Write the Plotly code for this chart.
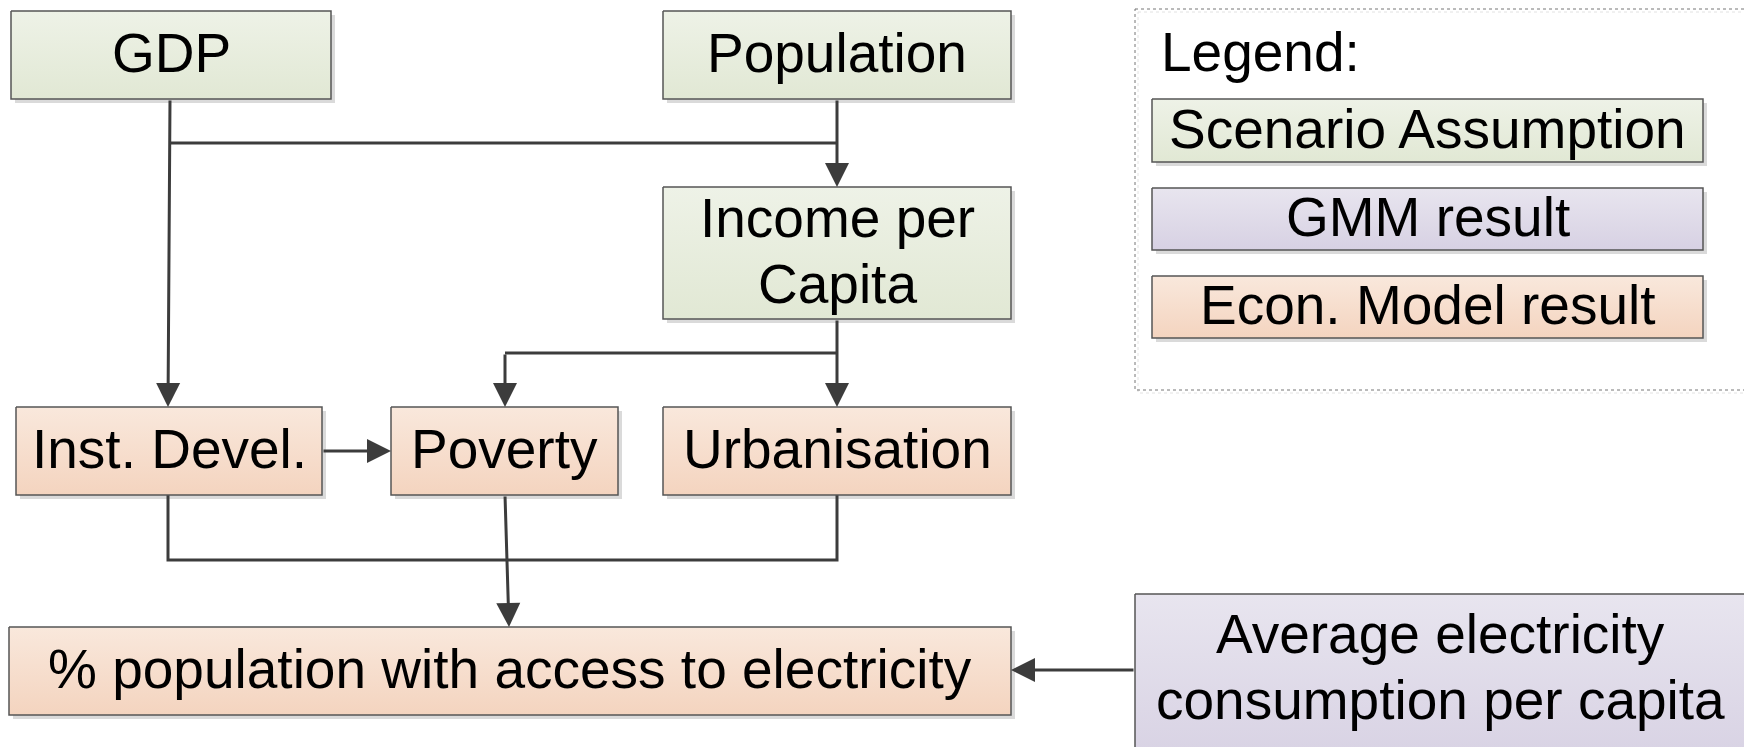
import plotly.graph_objects as go

# node labels and the kind of result each one is
labels = ["GDP", "Population", "Income per<br>Capita", "Inst. Devel.", "Poverty",
          "Urbanisation", "% population with access to electricity",
          "Average electricity<br>consumption per capita"]
kinds = ["scenario", "scenario", "scenario", "econ", "econ", "econ", "econ", "gmm"]

legend_title = "Legend:"
legend_labels = ["Scenario Assumption", "GMM result", "Econ. Model result"]
legend_kinds = ["scenario", "gmm", "econ"]

# arrows between nodes (from, to)
edges = [("GDP", "Inst. Devel."), ("GDP", "Income per<br>Capita"),
         ("Population", "Income per<br>Capita"), ("Income per<br>Capita", "Urbanisation"),
         ("Income per<br>Capita", "Poverty"), ("Inst. Devel.", "Poverty"),
         ("Inst. Devel.", "% population with access to electricity"),
         ("Poverty", "% population with access to electricity"),
         ("Urbanisation", "% population with access to electricity"),
         ("Average electricity<br>consumption per capita", "% population with access to electricity")]

# ---- layout (pixel coordinates, y down) ----
W, H = 1752, 747
PAD = 8  # page body margin around the plot div
boxes = {
    "GDP": (11, 331, 11, 99),
    "Population": (663, 1011, 11, 99),
    "Income per<br>Capita": (663, 1011, 187, 319),
    "Inst. Devel.": (16, 322, 407, 495),
    "Poverty": (391, 618, 407, 495),
    "Urbanisation": (663, 1011, 407, 495),
    "% population with access to electricity": (9, 1011, 627, 715),
    "Average electricity<br>consumption per capita": (1135, 1746, 594, 770),
}
text_center = {"Average electricity<br>consumption per capita": 669}
legend_frame = (1135, 1745, 9, 390)
legend_boxes = [(1152, 1703, 99, 162), (1152, 1703, 188, 250), (1152, 1703, 276, 338)]

fills = {"scenario": ("#eef2e7", "#e1e8d4"),
         "econ": ("#f9e8dc", "#f4d4bf"),
         "gmm": ("#e8e5ef", "#d7d1e3")}
line_col = "#3c3c3c"
font = dict(family="Liberation Sans, Arial, sans-serif", size=55, color="black")

# connector routes (polylines), last segment gets an arrow when flagged
routes = [
    ([(170, 99), (168, 407)], True),
    ([(170, 143), (837, 143)], False),
    ([(837, 99), (837, 187)], True),
    ([(837, 319), (837, 407)], True),
    ([(837, 353), (505, 353), (505, 407)], True),
    ([(322, 451), (391, 451)], True),
    ([(168, 495), (168, 560), (837, 560), (837, 495)], False),
    ([(505, 495), (509, 627)], True),
    ([(1135, 670), (1011, 670)], True),
]

fig = go.Figure()


def add_box(x0, x1, y0, y1, kind):
    # shadow
    fig.add_shape(type="rect", x0=x0 + 4, x1=x1 + 4, y0=y0 + 4, y1=y1 + 4,
                  fillcolor="#dadada", line_width=0, layer="below")
    top, bot = fills[kind]
    fig.add_trace(go.Scatter(
        x=[x0, x1, x1, x0, x0], y=[y0, y0, y1, y1, y0], mode="lines",
        fill="toself", line=dict(color="#555555", width=1.5),
        fillgradient=dict(type="vertical", colorscale=[[0, bot], [1, top]]),
        hoverinfo="skip", showlegend=False))


def add_text(label, x0, x1, yc):
    lines = label.split("<br>")
    gap = 66
    for i, ln in enumerate(lines):
        y = yc - 2 + (i - (len(lines) - 1) / 2) * gap
        fig.add_annotation(x=(x0 + x1) / 2, y=y, text=ln, showarrow=False,
                           font=font, xanchor="center", yanchor="middle")


# legend frame
lx0, lx1, ly0, ly1 = legend_frame
fig.add_shape(type="rect", x0=lx0 + 3, x1=lx1 + 3, y0=ly0 + 3, y1=ly1 + 3,
              line=dict(color="#e2e2e2", width=1, dash="dot"), layer="below")
fig.add_shape(type="rect", x0=lx0, x1=lx1, y0=ly0, y1=ly1,
              line=dict(color="#777777", width=1, dash="dot"))
fig.add_annotation(x=1159, y=52, text=legend_title, showarrow=False, font=font,
                   xanchor="left", yanchor="middle")
for (x0, x1, y0, y1), lab, kd in zip(legend_boxes, legend_labels, legend_kinds):
    add_box(x0, x1, y0, y1, kd)
    add_text(lab, x0, x1, (y0 + y1) / 2)

# connectors
for pts, arrow in routes:
    body = pts[:-1] if arrow else pts
    if len(body) > 1:
        fig.add_trace(go.Scatter(x=[p[0] for p in body], y=[p[1] for p in body],
                                 mode="lines", line=dict(color=line_col, width=3),
                                 hoverinfo="skip", showlegend=False))
    if arrow:
        (ax, ay), (x, y) = pts[-2], pts[-1]
        fig.add_annotation(x=x, y=y, ax=ax, ay=ay, xref="x", yref="y",
                           axref="x", ayref="y", text="", showarrow=True,
                           arrowhead=2, arrowsize=1.6, arrowwidth=3,
                           arrowcolor=line_col, standoff=0)

# nodes
for lab, kd in zip(labels, kinds):
    x0, x1, y0, y1 = boxes[lab]
    add_box(x0, x1, y0, y1, kd)
    add_text(lab, x0, x1, text_center.get(lab, (y0 + y1) / 2))

fig.update_layout(
    width=W - PAD, height=H - PAD, margin=dict(l=0, r=0, t=0, b=0),
    paper_bgcolor="white", plot_bgcolor="white",
    xaxis=dict(range=[PAD, W], visible=False, fixedrange=True),
    yaxis=dict(range=[H, PAD], visible=False, fixedrange=True),
)

fig.write_html("out.html")
